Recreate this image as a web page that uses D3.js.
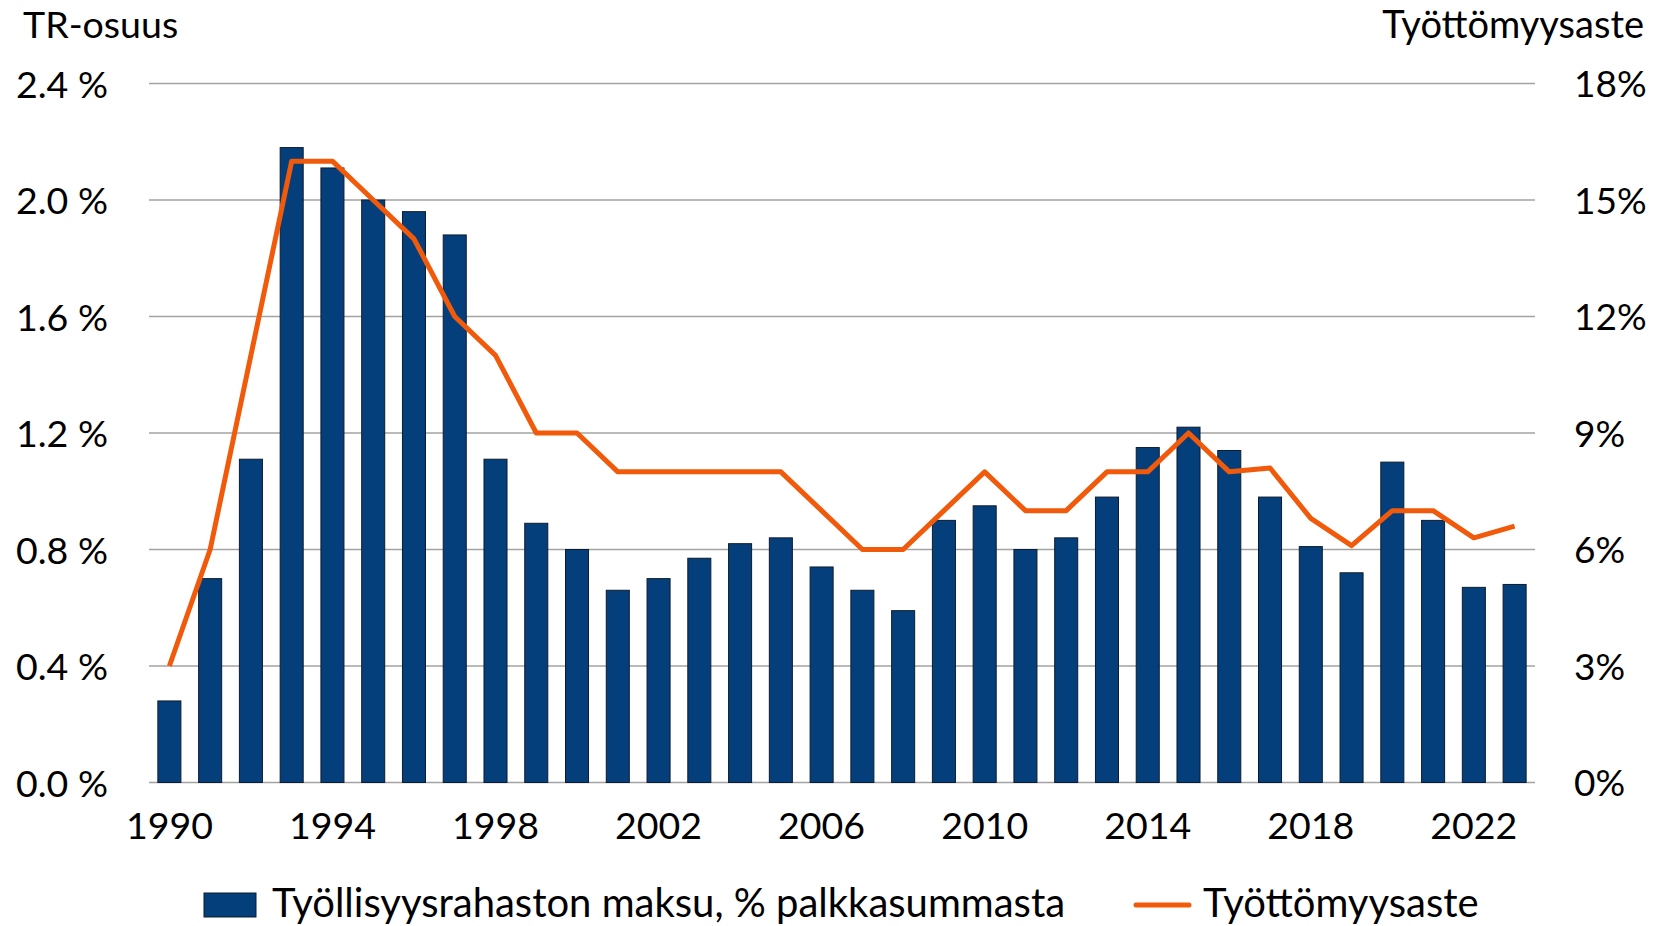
<!DOCTYPE html>
<html>
<head>
<meta charset="utf-8">
<script src="https://cdn.jsdelivr.net/npm/d3@7"></script>
<style>
  body { margin: 0; background: #fff; }
  text { font-family: Lato, "Open Sans", sans-serif; fill: #000; }
</style>
</head>
<body>
<script>
// data
let years = d3.range(1990, 2024)
let maksu = [0.28, 0.70, 1.11, 2.18, 2.11, 2.00, 1.96, 1.88, 1.11, 0.89,
             0.80, 0.66, 0.70, 0.77, 0.82, 0.84, 0.74, 0.66, 0.59, 0.90,
             0.95, 0.80, 0.84, 0.98, 1.15, 1.22, 1.14, 0.98, 0.81, 0.72,
             1.10, 0.90, 0.67, 0.68]
let tyottomyys = [3.0, 6.0, 11.0, 16.0, 16.0, 15.0, 14.0, 12.0, 11.0, 9.0,
                  9.0, 8.0, 8.0, 8.0, 8.0, 8.0, 7.0, 6.0, 6.0, 7.0,
                  8.0, 7.0, 7.0, 8.0, 8.0, 9.0, 8.0, 8.1, 6.8, 6.1,
                  7.0, 7.0, 6.3, 6.6]
let leftTicks = [0, 0.4, 0.8, 1.2, 1.6, 2.0, 2.4]
let rightTicks = [0, 3, 6, 9, 12, 15, 18]
let yearLabels = [1990, 1994, 1998, 2002, 2006, 2010, 2014, 2018, 2022]

let
  width = 1654,
  height = 926;

let margin = {
  top: 83.5,
  bottom: 143.5,
  left: 149,
  right: 119
}

let barColor = '#053f7b'
let lineColor = '#f05a0a'

let svg = d3.select('body')
            .append('svg')
            .attr('width', width)
            .attr('height', height)

let xScale = d3.scaleBand()
            .domain(years)
            .range([margin.left, width - margin.right])
            .paddingInner(0.435)
            .paddingOuter(0.2175)

let yLeft = d3.scaleLinear()
            .domain([0, 2.4])
            .range([height - margin.bottom, margin.top])

let yRight = d3.scaleLinear()
            .domain([0, 18])
            .range([height - margin.bottom, margin.top])

// gridlines
svg.append('g')
   .selectAll('line')
   .data(leftTicks)
   .enter()
   .append('line')
   .attr('x1', margin.left)
   .attr('x2', width - margin.right)
   .attr('y1', d => yLeft(d))
   .attr('y2', d => yLeft(d))
   .attr('stroke', '#a3a3a3')
   .attr('stroke-width', 1.6)

// left axis
let yAxisL = svg.append('g')
            .attr('transform', `translate(${margin.left}, 0)`)
            .call(d3.axisLeft(yLeft).tickValues(leftTicks).tickSize(0).tickPadding(41)
                    .tickFormat(d => d3.format('.1f')(d) + ' %'))
yAxisL.select('.domain').remove()
yAxisL.selectAll('text').style('font-size', '37.5px').attr('dy', '0.36em')
      .style('font-family', 'Lato')

// right axis
let yAxisR = svg.append('g')
            .attr('transform', `translate(${width - margin.right}, 0)`)
            .call(d3.axisRight(yRight).tickValues(rightTicks).tickSize(0).tickPadding(39)
                    .tickFormat(d => d + '%'))
yAxisR.select('.domain').remove()
yAxisR.selectAll('text').style('font-size', '37px').attr('dy', '0.36em')
      .style('font-family', 'Lato')

// x axis
let xAxis = svg.append('g')
            .attr('transform', `translate(0, ${height - margin.bottom})`)
            .call(d3.axisBottom(xScale).tickValues(yearLabels).tickSize(0))
xAxis.select('.domain').remove()
xAxis.selectAll('text').style('font-size', '37.5px').style('font-family', 'Lato')
     .attr('y', 56).attr('dy', 0)

// bars
svg.append('g')
   .selectAll('rect')
   .data(years)
   .enter()
   .append('rect')
   .attr('x', d => xScale(d))
   .attr('y', (d, i) => yLeft(maksu[i]))
   .attr('width', xScale.bandwidth())
   .attr('height', (d, i) => yLeft(0) - yLeft(maksu[i]))
   .attr('fill', barColor)
   .attr('stroke', '#0c1c2e')
   .attr('stroke-width', 1)

// line
let line = d3.line()
            .x((d, i) => xScale(years[i]) + xScale.bandwidth() / 2)
            .y(d => yRight(d))

svg.append('path')
   .datum(tyottomyys)
   .attr('d', line)
   .attr('fill', 'none')
   .attr('stroke', lineColor)
   .attr('stroke-width', 5)
   .attr('stroke-linejoin', 'round')

// axis titles
svg.append('text')
   .attr('x', 23)
   .attr('y', 38)
   .text('TR-osuus')
   .style('font-size', '37.5px')

svg.append('text')
   .attr('x', 1644)
   .attr('y', 38)
   .text('Työttömyysaste')
   .style('font-size', '38px')
   .style('text-anchor', 'end')

// legend
svg.append('rect')
   .attr('x', 204)
   .attr('y', 893)
   .attr('width', 52)
   .attr('height', 24)
   .attr('fill', barColor)
   .attr('stroke', '#0c1c2e')
   .attr('stroke-width', 1)

svg.append('text')
   .attr('x', 272)
   .attr('y', 917)
   .text('Työllisyysrahaston maksu, % palkkasummasta')
   .style('font-size', '40px')

svg.append('line')
   .attr('x1', 1136)
   .attr('x2', 1189)
   .attr('y1', 905)
   .attr('y2', 905)
   .attr('stroke', lineColor)
   .attr('stroke-width', 5)
   .attr('stroke-linecap', 'round')

svg.append('text')
   .attr('x', 1203)
   .attr('y', 917)
   .text('Työttömyysaste')
   .style('font-size', '40px')
</script>
</body>
</html>
